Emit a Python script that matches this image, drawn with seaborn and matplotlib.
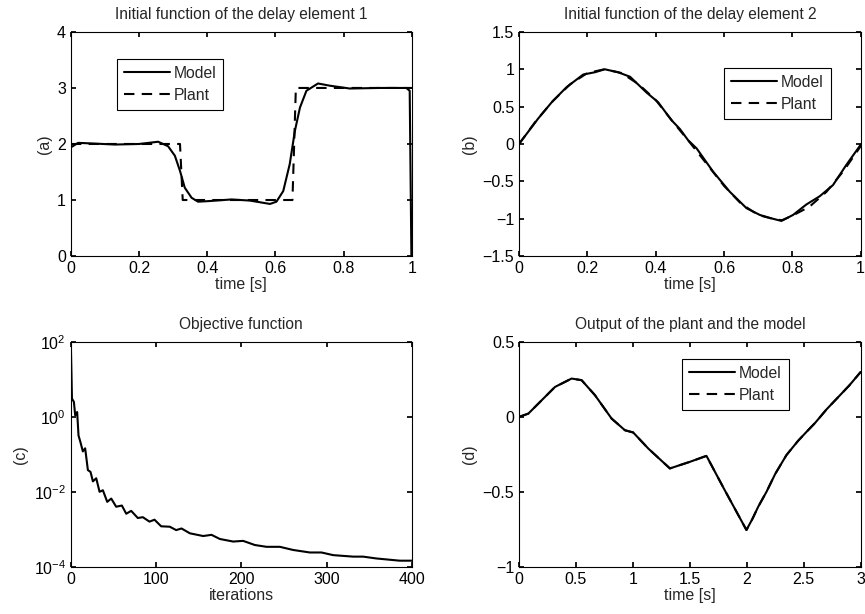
import numpy as np
import pandas as pd
import seaborn as sns
import matplotlib.pyplot as plt
from matplotlib.ticker import FuncFormatter, LogFormatterMathtext, NullLocator

# (a) initial function of delay element 1
a_model_t = [0.0, 0.021, 0.06, 0.129, 0.2, 0.256, 0.285, 0.305, 0.32, 0.334, 0.354, 0.373,
             0.403, 0.471, 0.525, 0.584, 0.603, 0.623, 0.642, 0.657, 0.672, 0.691, 0.725,
             0.76, 0.818, 0.906, 0.984, 0.994, 0.999]
a_model_y = [1.94, 2.02, 2.01, 1.99, 2.0, 2.04, 1.96, 1.79, 1.52, 1.22, 1.04, 0.97,
             0.98, 1.01, 0.99, 0.93, 0.97, 1.16, 1.64, 2.23, 2.65, 2.95, 3.08,
             3.04, 2.99, 3.0, 3.0, 2.95, 0.0]
a_plant_t = [0.0, 0.32, 0.328, 0.65, 0.66, 1.0]
a_plant_y = [2.0, 2.0, 1.0, 1.0, 3.0, 3.0]

# (b) initial function of delay element 2
b_model_t = [0.0, 0.056, 0.096, 0.139, 0.188, 0.222, 0.251, 0.29, 0.325, 0.373, 0.407,
             0.446, 0.471, 0.495, 0.52, 0.568, 0.617, 0.666, 0.705, 0.734, 0.768, 0.802,
             0.841, 0.88, 0.919, 0.958, 1.0]
b_model_y = [0.0, 0.34, 0.56, 0.76, 0.93, 0.96, 1.0, 0.96, 0.9, 0.69, 0.56,
             0.32, 0.2, 0.05, -0.06, -0.37, -0.64, -0.86, -0.95, -0.99, -1.03, -0.95,
             -0.81, -0.7, -0.55, -0.28, -0.01]
b_plant_t = [0.0, 0.05, 0.1, 0.15, 0.2, 0.25, 0.3, 0.35, 0.4, 0.45, 0.5, 0.55, 0.6, 0.65,
             0.7, 0.75, 0.77, 0.8, 0.85, 0.9, 0.95, 1.0]
b_plant_y = [0.0, 0.31, 0.58, 0.8, 0.95, 1.0, 0.95, 0.8, 0.59, 0.3, 0.02, -0.27, -0.56,
             -0.8, -0.95, -1.01, -1.02, -0.96, -0.84, -0.64, -0.36, -0.03]

# (c) objective function
c_iter = [0, 0.5, 1.2, 3.5, 5, 7.3, 8.9, 11.2, 14, 16.7, 19.9, 23, 25.8, 29.7, 33.6,
          37.5, 42.6, 47.3, 53.1, 59.8, 64.9, 70.7, 78.5, 84.4, 92.2, 98.1, 105.9, 116,
          123.5, 129.8, 139.6, 155.2, 165, 174.8, 190.4, 202.1, 215.8, 229.5, 245.2,
          260.8, 280.4, 294.1, 307.7, 331.2, 342.9, 358.6, 385.9, 400]
c_obj = [66, 19.5, 3.1, 2.5, 1.1, 1.35, 0.32, 0.21, 0.12, 0.145, 0.038, 0.034, 0.019,
         0.023, 0.010, 0.011, 0.0054, 0.0066, 0.0040, 0.0043, 0.0026, 0.0031, 0.0020,
         0.0021, 0.0016, 0.0018, 0.0012, 0.00117, 0.00095, 0.00105, 0.00078, 0.00066,
         0.00071, 0.00055, 0.00047, 0.00049, 0.00038, 0.00034, 0.00034, 0.00028,
         0.00024, 0.00024, 0.000204, 0.000186, 0.000186, 0.000166, 0.000145, 0.000145]

# (d) output of the plant and the model
d_t = [0.0, 0.082, 0.199, 0.316, 0.462, 0.55, 0.667, 0.813, 0.93, 1.003, 1.135, 1.325,
       1.412, 1.5, 1.646, 1.8, 1.997, 2.05, 2.1, 2.173, 2.25, 2.348, 2.45, 2.524, 2.6,
       2.7, 2.8, 2.9, 3.0]
d_model = [0.0, 0.022, 0.111, 0.2, 0.256, 0.245, 0.145, -0.011, -0.089, -0.104, -0.211,
           -0.344, -0.322, -0.3, -0.26, -0.48, -0.755, -0.68, -0.6, -0.5, -0.38, -0.255,
           -0.16, -0.1, -0.04, 0.05, 0.13, 0.21, 0.3]
d_plant = d_model

sns.set_theme(style="ticks")
plt.rcParams.update({
    "font.family": ["Liberation Sans", "DejaVu Sans"],
    "font.size": 11,
    "xtick.direction": "in", "ytick.direction": "in",
    "xtick.top": True, "ytick.right": True,
    "xtick.labelsize": 11.5, "ytick.labelsize": 11.5,
    "axes.edgecolor": "black", "axes.linewidth": 0.8,
    "xtick.color": "black", "ytick.color": "black",
    "xtick.major.size": 3.5, "ytick.major.size": 3.5,
})

fig = plt.figure(figsize=(8.65, 6.14), dpi=100)
ax_a = fig.add_axes([0.082, 0.583, 0.394, 0.365])
ax_b = fig.add_axes([0.600, 0.583, 0.395, 0.365])
ax_c = fig.add_axes([0.082, 0.077, 0.394, 0.366])
ax_d = fig.add_axes([0.600, 0.077, 0.395, 0.366])

fmt = FuncFormatter(lambda v, p: ("%g" % v).replace("-", "\u2212"))
lw = 1.5
dash = (5, 3.5)
title_fs = 11.2
title_pad = 9
label_fs = 11.5


def pair(ax, t1, y1, t2, y2):
    sns.lineplot(x=t1, y=y1, ax=ax, color="black", lw=lw, sort=False, estimator=None,
                 label="Model")
    sns.lineplot(x=t2, y=y2, ax=ax, color="black", lw=lw, sort=False, estimator=None,
                 label="Plant", dashes=False, linestyle=(0, dash))


def legend(ax, loc, anchor):
    leg = ax.legend(loc=loc, bbox_to_anchor=anchor, fancybox=False, framealpha=1,
                    edgecolor="black", fontsize=11.3, handlelength=2.9,
                    borderpad=0.45, labelspacing=0.45, handletextpad=0.25,
                    borderaxespad=0)
    leg.get_frame().set_linewidth(0.8)


pair(ax_a, a_model_t, a_model_y, a_plant_t, a_plant_y)
ax_a.set_xlim(0, 1)
ax_a.set_ylim(0, 4)
ax_a.set_xticks([0, 0.2, 0.4, 0.6, 0.8, 1])
ax_a.set_yticks([0, 1, 2, 3, 4])
ax_a.xaxis.set_major_formatter(fmt)
ax_a.yaxis.set_major_formatter(fmt)
ax_a.set_title("Initial function of the delay element 1", fontsize=title_fs, pad=title_pad)
ax_a.set_xlabel("time [s]", fontsize=label_fs, labelpad=1)
ax_a.set_ylabel("(a)", fontsize=label_fs)
legend(ax_a, "upper left", (0.135, 0.88))

pair(ax_b, b_model_t, b_model_y, b_plant_t, b_plant_y)
ax_b.set_xlim(0, 1)
ax_b.set_ylim(-1.5, 1.5)
ax_b.set_xticks([0, 0.2, 0.4, 0.6, 0.8, 1])
ax_b.set_yticks([-1.5, -1, -0.5, 0, 0.5, 1, 1.5])
ax_b.xaxis.set_major_formatter(fmt)
ax_b.yaxis.set_major_formatter(fmt)
ax_b.set_title("Initial function of the delay element 2", fontsize=title_fs, pad=title_pad)
ax_b.set_xlabel("time [s]", fontsize=label_fs, labelpad=1)
ax_b.set_ylabel("(b)", fontsize=label_fs)
legend(ax_b, "upper right", (0.912, 0.84))

sns.lineplot(x=c_iter, y=c_obj, ax=ax_c, color="black", lw=lw, sort=False, estimator=None)
ax_c.set_yscale("log")
ax_c.set_xlim(0, 400)
ax_c.set_ylim(1e-4, 1e2)
ax_c.set_yticks([1e-4, 1e-2, 1e0, 1e2])
ax_c.yaxis.set_major_formatter(LogFormatterMathtext())
ax_c.yaxis.set_minor_locator(NullLocator())
ax_c.set_xticks([0, 100, 200, 300, 400])
ax_c.set_title("Objective function", fontsize=title_fs, pad=title_pad)
ax_c.set_xlabel("iterations", fontsize=label_fs, labelpad=1)
ax_c.set_ylabel("(c)", fontsize=label_fs)

pair(ax_d, d_t, d_model, d_t, d_plant)
ax_d.set_xlim(0, 3)
ax_d.set_ylim(-1, 0.5)
ax_d.set_xticks([0, 0.5, 1, 1.5, 2, 2.5, 3])
ax_d.set_yticks([-1, -0.5, 0, 0.5])
ax_d.xaxis.set_major_formatter(fmt)
ax_d.yaxis.set_major_formatter(fmt)
ax_d.set_title("Output of the plant and the model", fontsize=title_fs, pad=title_pad)
ax_d.set_xlabel("time [s]", fontsize=label_fs, labelpad=1)
ax_d.set_ylabel("(d)", fontsize=label_fs)
legend(ax_d, "upper right", (0.789, 0.926))

fig.savefig("out.png", dpi=100)
